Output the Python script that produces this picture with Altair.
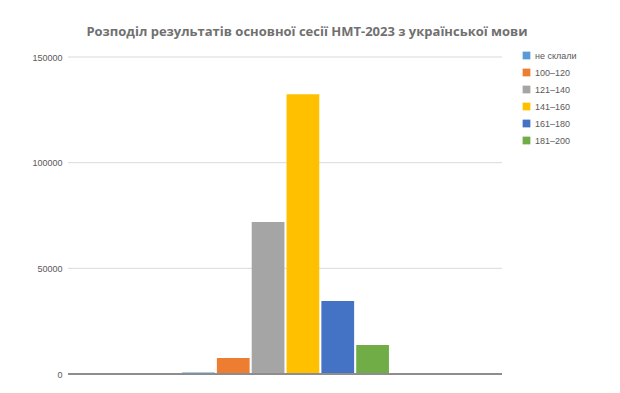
import altair as alt
import pandas as pd

categories = ["не склали", "100–120", "121–140", "141–160", "161–180", "181–200"]
values = [700, 7600, 71900, 132400, 34500, 13700]
colors = ["#5B9BD5", "#ED7D31", "#A5A5A5", "#FFC000", "#4472C4", "#70AD47"]
y_ticks = [0, 50000, 100000, 150000]

df = pd.DataFrame({"group": categories, "value": values})
grid_df = pd.DataFrame({"tick": y_ticks[1:]})

grid = alt.Chart(grid_df).mark_rule(color="#d9d9d9", strokeWidth=1).encode(
    y=alt.Y("tick:Q", scale=alt.Scale(domain=[0, 150000], nice=False))
)

bars = alt.Chart(df).mark_bar().encode(
    x=alt.X("group:N", sort=categories,
            scale=alt.Scale(paddingInner=0.06, paddingOuter=0.03, range=[113, 322]),
            axis=None),
    y=alt.Y("value:Q", scale=alt.Scale(domain=[0, 150000], nice=False),
            axis=alt.Axis(values=y_ticks, title=None, domain=False, ticks=False,
                          grid=False, labelColor="#595959", format="d",
                          labelFontSize=9, labelPadding=6, labelFont="Liberation Sans")),
    color=alt.Color("group:N", sort=categories,
                    scale=alt.Scale(domain=categories, range=colors),
                    legend=alt.Legend(title=None, orient="none", legendX=454, legendY=-6,
                                      symbolType="square", symbolSize=60,
                                      symbolStrokeWidth=0, labelFontSize=9,
                                      labelColor="#595959", labelFont="Liberation Sans",
                                      rowPadding=7)),
)

baseline = alt.Chart(df).mark_rule(color="#8c8c8c", strokeWidth=1).encode(
    y=alt.datum(0)
)

chart = alt.layer(grid, bars, baseline).properties(
    width=434, height=317,
    title=alt.Title("Розподіл результатів основної сесії НМТ-2023 з української мови",
                    fontSize=13, font="Open Sans", fontWeight="bold", color="#707070",
                    anchor="middle", dx=22, offset=12),
    autosize=alt.AutoSizeParams(type="none"),
    padding={"left": 68, "top": 57, "right": 118, "bottom": 19},
).configure_view(stroke=None)

chart.save("out.html", embed_options={"renderer": "svg", "actions": False})
